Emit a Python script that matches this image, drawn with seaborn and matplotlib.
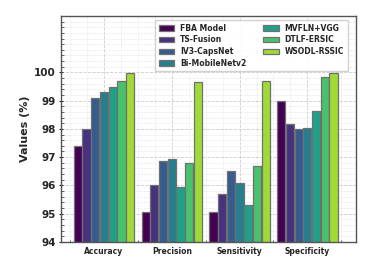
import matplotlib
matplotlib.use("Agg")
import matplotlib.pyplot as plt
import seaborn as sns
import pandas as pd
import numpy as np
from matplotlib.ticker import MultipleLocator, AutoMinorLocator

metrics = ["Accuracy", "Precision", "Sensitivity", "Specificity"]
models = ["FBA Model", "TS-Fusion", "IV3-CapsNet", "Bi-MobileNetv2",
          "MVFLN+VGG", "DTLF-ERSIC", "WSODL-RSSIC"]
fba = [97.40, 95.05, 95.05, 98.97]
tsf = [98.00, 96.00, 95.70, 98.17]
iv3 = [99.10, 96.87, 96.50, 98.00]
bim = [99.30, 96.95, 96.08, 98.04]
mvf = [99.50, 95.95, 95.32, 98.65]
dtl = [99.70, 96.80, 96.70, 99.82]
wso = [99.98, 99.67, 99.70, 99.98]

series = [fba, tsf, iv3, bim, mvf, dtl, wso]
rows = []
for m, vals in zip(models, series):
    for met, v in zip(metrics, vals):
        rows.append({"Metric": met, "Model": m, "Value": v})
df = pd.DataFrame(rows)

colors = [matplotlib.colors.to_hex(c) for c in plt.cm.viridis(np.linspace(0, 1, len(models) + 1))[:len(models)]]

sns.set_style("whitegrid")
plt.rcParams['font.family'] = ['DejaVu Sans']
fig, ax = plt.subplots(figsize=(3.88, 2.79), dpi=100)
sns.barplot(data=df, x="Metric", y="Value", hue="Model",
            palette=colors, saturation=1, width=0.9, gap=0.06,
            edgecolor="#707070", linewidth=0.9, ax=ax)

ax.set_ylim(94, 102)
ax.set_xlim(-0.635, 3.72)
ax.set_yticks([94, 95, 96, 97, 98, 99, 100])
ax.yaxis.set_minor_locator(AutoMinorLocator(5))
ax.xaxis.set_minor_locator(MultipleLocator(0.25))
ax.tick_params(axis='y', which='major', labelsize=7.5, length=3, left=True,
               width=0.8, direction='inout', pad=2)
ax.tick_params(axis='y', which='minor', length=2, left=True, width=0.5, direction='in')
ax.tick_params(axis='x', which='major', labelsize=5.5, length=2, bottom=True, direction='in')
ax.tick_params(axis='x', which='minor', length=1.5, bottom=True, width=0.5, direction='in')
for lab in ax.get_xticklabels() + ax.get_yticklabels():
    lab.set_fontweight('bold')
ax.set_xlabel("")
ax.set_ylabel("Values (%)", fontsize=8, fontweight='bold', labelpad=3)
ax.grid(True, which='major', linestyle='--', linewidth=0.6, color='#cccccc')
ax.grid(True, which='minor', linestyle='--', linewidth=0.4, color='#e4e4e4')
ax.set_axisbelow(True)
for s in ax.spines.values():
    s.set_color('#555555')
    s.set_linewidth(1.0)

leg = ax.legend(loc='upper right', ncol=2, prop={'size': 5.5, 'weight': 'bold'},
                frameon=True, handlelength=2.0, handleheight=0.7,
                columnspacing=2.2, labelspacing=0.35, borderpad=0.5,
                fancybox=True, framealpha=0.9, bbox_to_anchor=(0.985, 1.0))
leg.get_frame().set_edgecolor('#cccccc')

fig.subplots_adjust(left=0.157, right=0.918, top=0.943, bottom=0.133)
fig.savefig("out.png", dpi=100)
